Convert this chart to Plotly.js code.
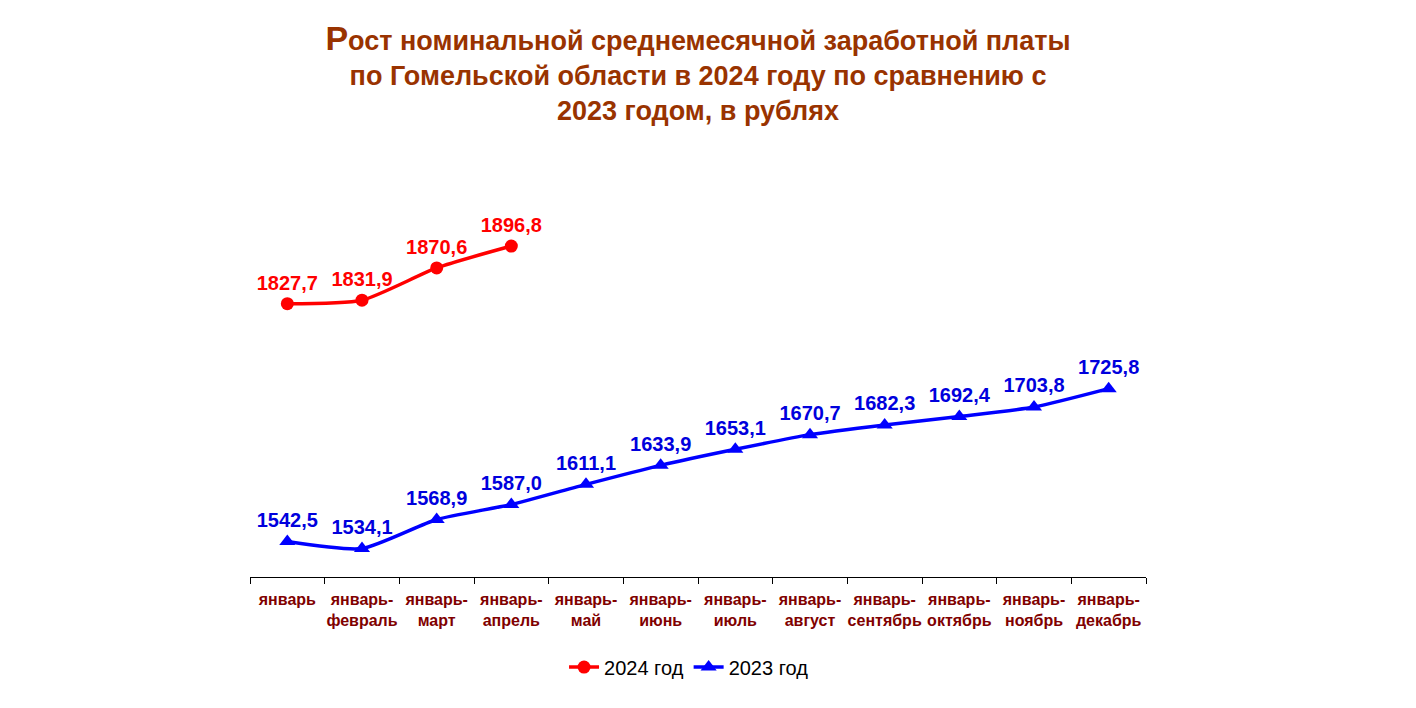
<!DOCTYPE html>
<html><head><meta charset="utf-8">
<script src="https://cdn.plot.ly/plotly-3.0.1.min.js"></script>
<style>html,body{margin:0;padding:0;background:#fff}#chart{width:1416px;height:708px}</style>
</head><body><div id="chart"></div>
<script>
const categories = ["январь","январь-<br>февраль","январь-<br>март","январь-<br>апрель","январь-<br>май","январь-<br>июнь","январь-<br>июль","январь-<br>август","январь-<br>сентябрь","январь-<br>октябрь","январь-<br>ноябрь","январь-<br>декабрь"];
const values2024 = [1827.7, 1831.9, 1870.6, 1896.8];
const values2023 = [1542.5, 1534.1, 1568.9, 1587.0, 1611.1, 1633.9, 1653.1, 1670.7, 1682.3, 1692.4, 1703.8, 1725.8];
const name2024 = "2024 год";
const name2023 = "2023 год";
const fmt = v => v.toFixed(1).replace('.', ',');

const t2024 = {
  x: categories.slice(0, values2024.length), y: values2024, name: name2024,
  type: 'scatter', mode: 'lines+markers+text',
  line: {color: '#ff0000', width: 3.5, shape: 'spline', smoothing: 0.6},
  marker: {color: '#ff0000', size: 13, symbol: 'circle'},
  text: values2024.map(fmt), textposition: 'top center',
  textfont: {family: 'Arial, Liberation Sans, sans-serif', size: 20, color: '#ff0000', weight: 'bold'},
  cliponaxis: false
};
const t2023 = {
  x: categories, y: values2023, name: name2023,
  type: 'scatter', mode: 'lines+markers+text',
  line: {color: '#0000ff', width: 3.5, shape: 'spline', smoothing: 0.6},
  marker: {color: '#0000ff', size: 14, symbol: 'triangle-up'},
  text: values2023.map(fmt), textposition: 'top center',
  textfont: {family: 'Arial, Liberation Sans, sans-serif', size: 20, color: '#0000dd', weight: 'bold'},
  cliponaxis: false
};

const layout = {
  width: 1416, height: 708,
  paper_bgcolor: '#fff', plot_bgcolor: '#fff',
  margin: {l: 250, r: 270, t: 160, b: 131},
  title: {
    text: '<b><span style="font-size:34px">Р</span>ост номинальной среднемесячной заработной платы<br>по Гомельской области в 2024 году по сравнению с<br>2023 годом, в рублях</b>',
    font: {family: 'Arial, Liberation Sans, sans-serif', size: 27, color: '#993300'},
    x: 0.5, xanchor: 'center', xref: 'paper', y: 0.93, yanchor: 'top', yref: 'container'
  },
  xaxis: {
    type: 'category', range: [-0.5, 11.5], showgrid: false, zeroline: false,
    showline: true, linecolor: '#000', linewidth: 1,
    ticks: 'outside', tickson: 'boundaries', ticklen: 6, tickcolor: '#000', tickwidth: 1,
    tickangle: 0, ticklabelstandoff: 8,
    tickfont: {family: 'Arial, Liberation Sans, sans-serif', size: 16, color: '#800000', weight: 'bold'},
    fixedrange: true
  },
  yaxis: {range: [1500, 2000], visible: false, showgrid: false, zeroline: false, fixedrange: true},
  showlegend: true,
  legend: {
    orientation: 'h', x: 0.49, xanchor: 'center', y: -0.216, yanchor: 'middle',
    font: {family: 'Arial, Liberation Sans, sans-serif', size: 20, color: '#000'},
    itemwidth: 30
  }
};
Plotly.newPlot('chart', [t2024, t2023], layout, {displayModeBar: false, staticPlot: true});
</script></body></html>
